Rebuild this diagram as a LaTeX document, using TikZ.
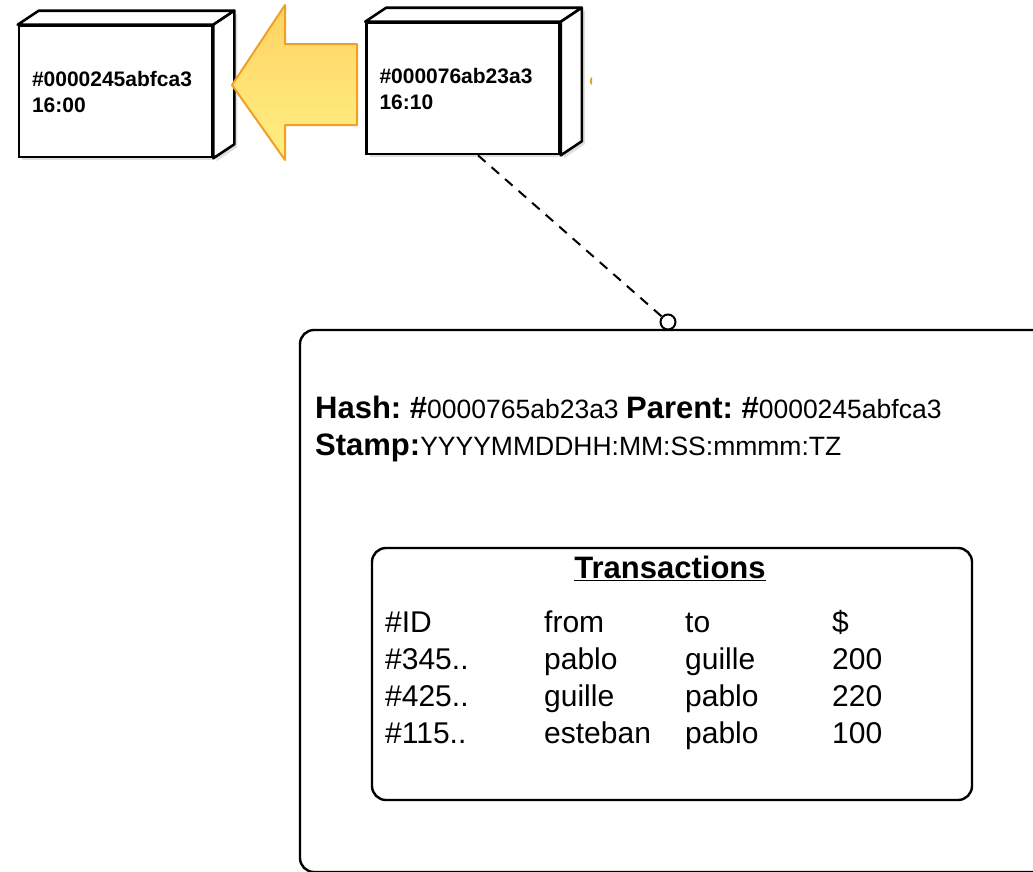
\documentclass[tikz,border=0pt]{standalone}
\usepackage{fontspec}
\setmainfont{Liberation Sans}
\usetikzlibrary{shadows}

\definecolor{arrowtop}{RGB}{255,210,100}
\definecolor{arrowbot}{RGB}{255,240,130}
\definecolor{arrowline}{RGB}{240,160,36}

\newcommand{\lbl}[1]{{\fontsize{31}{37}\selectfont\bfseries #1}}

\begin{document}
\begin{tikzpicture}[
        x=1pt, y=-1pt,
        cube/.style={
            rectangle,
            draw,
            line width=2.6pt,
            fill=white,
            align=left,
            text width=167pt,
            minimum width=193pt,
            minimum height=131pt,
            inner sep=0pt,
            font=\fontsize{21}{26}\selectfont\bfseries,
            drop shadow={shadow xshift=3pt, shadow yshift=-3pt, opacity=0.25}
        },
        face/.style={
            draw,
            line width=2.6pt,
            fill=white,
            line join=round
        },
        panel/.style={
            rectangle,
            draw,
            line width=2.4pt,
            rounded corners=14pt
        },
        info/.style={
            anchor=base west,
            inner sep=0pt,
            font=\fontsize{26.5}{32}\selectfont
        },
        cell/.style={
            anchor=base west,
            inner sep=0pt,
            font=\fontsize{30}{36}\selectfont
        },
        bigarrow/.style={
            draw=arrowline,
            line width=2pt,
            line join=round,
            top color=arrowtop,
            bottom color=arrowbot
        },
        link/.style={
            draw,
            line width=2pt,
            dash pattern=on 10pt off 8pt
        }
    ]

        \clip (0,0) rectangle (1033,871);

        % chain of blocks
        \node[cube] (prev) at (115.5,91.5) {\#0000245abfca3\\16:00};
        \node[cube] (curr) at (463,88.5) {\#000076ab23a3\\16:10};

        \foreach \b in {prev,curr} {
            \draw[face] (\b.north west) -- ++(21,-14) -- ([xshift=21pt,yshift=14pt]\b.north east) -- (\b.north east) -- cycle;
            \draw[face, drop shadow={shadow xshift=3pt, shadow yshift=-3pt, opacity=0.25}]
                (\b.north east) -- ++(21,-14) -- ([xshift=21pt,yshift=14pt]\b.south east) -- (\b.south east) -- cycle;
        }

        % big arrow between the blocks
        \draw[bigarrow] (232,85) -- (285,5) -- (285,44) -- (357,44) -- (357,125) -- (285,125) -- (285,160) -- cycle;
        \fill[arrowline] (592,77) .. controls (589,78) and (589,84) .. (592,85) -- cycle;

        % block detail
        \node[panel, minimum width=750pt, minimum height=542pt] (detail) at (675,601) {};
        \node[circle, draw, line width=2pt, fill=white, minimum size=15pt, inner sep=0pt] (pin) at (668,322) {};
        \draw[link] ([xshift=15pt]curr.south) -- (pin);

        \node[info] (hash) at (315,418) {\lbl{Hash:~\#}0000765ab23a3 \lbl{Parent:~\#}0000245abfca3};
        \node[info] (stamp) at (315,455) {\lbl{Stamp:}YYYYMMDDHH:MM:SS:mmmm:TZ};

        % transactions
        \node[panel, minimum width=600pt, minimum height=252pt] (tx) at (672,674) {};
        \node[anchor=base, inner sep=0pt, font=\fontsize{31}{37}\selectfont\bfseries] (txtitle) at (670,578) {\underline{Transactions}};

        \foreach \i/\id/\from/\to/\amt in {0/\#ID/from/to/\$,
                                           1/\#345../pablo/guille/200,
                                           2/\#425../guille/pablo/220,
                                           3/\#115../esteban/pablo/100} {
            \node[cell] (id\i) at (385,632+37.3*\i) {\id};
            \node[cell] (from\i) at (544,632+37.3*\i) {\from};
            \node[cell] (to\i) at (685,632+37.3*\i) {\to};
            \node[cell] (amt\i) at (832,632+37.3*\i) {\amt};
        }

    \end{tikzpicture}
\end{document}
